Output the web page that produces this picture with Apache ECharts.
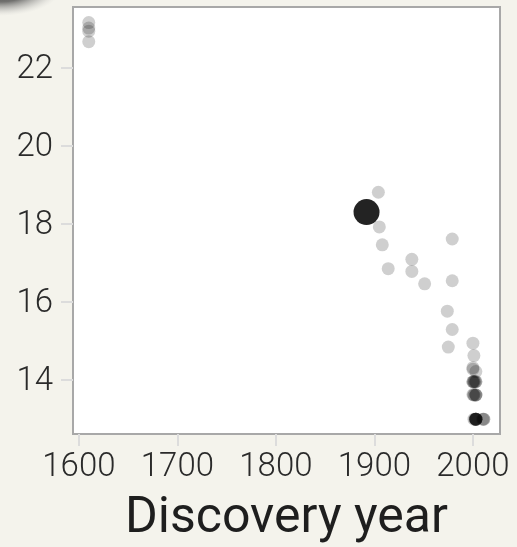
<!DOCTYPE html>
<html>
<head>
<meta charset="utf-8">
<script src="https://cdn.jsdelivr.net/npm/echarts@6/dist/echarts.min.js"></script>
<style>
  html, body { margin: 0; padding: 0; background: #f4f3ec; }
  #chart { width: 517px; height: 547px; }
</style>
</head>
<body>
<div id="chart"></div>
<script>
// Jupiter moons: discovery year vs log10 of mass (kg)
const years = [
  1610, 1610, 1610, 1610,
  1904, 1905, 1908, 1914, 1938, 1938, 1951,
  1974, 1975, 1979, 1979, 1979,
  2000, 2001,
  2000, 2000, 2003,
  2000, 2000, 2001, 2001, 2002, 2003, 2003,
  2000, 2001, 2001, 2003, 2003, 2003,
  2001, 2002, 2003, 2003, 2003, 2003, 2003, 2003, 2003, 2003,
  2010, 2011, 2011
];
const logMass = [
  23.17, 23.03, 22.95, 22.68,
  18.82, 17.93, 17.47, 16.86, 17.10, 16.79, 16.47,
  15.77, 14.85, 17.62, 16.55, 15.30,
  14.95, 14.63,
  14.32, 14.28, 14.22,
  13.96, 13.96, 13.96, 13.96, 13.96, 13.96, 13.96,
  13.63, 13.62, 13.62, 13.62, 13.62, 13.62,
  13.00, 13.00, 13.00, 13.00, 13.00, 13.00, 13.00, 13.00, 13.00, 13.00,
  13.00, 13.00, 13.00
];
// Selected moon (Amalthea)
const highlightYear = [1892];
const highlightMass = [18.31];

const xTicks = [1600, 1700, 1800, 1900, 2000];
const yTicks = [14, 16, 18, 20, 22];
const xTitle = 'Discovery year';

const points = years.map((y, i) => [y, logMass[i]]);
const selected = highlightYear.map((y, i) => [y, highlightMass[i]]);

const chart = echarts.init(document.getElementById('chart'), null, { renderer: 'canvas' });

const tickLabel = {
  fontFamily: '"Roboto Light", Roboto',
  fontWeight: 300,
  fontSize: 33,
  color: '#2a2a2a',
  formatter: v => String(v)
};

chart.setOption({
  backgroundColor: '#f4f3ec',
  animation: false,
  graphic: [{
    // soft dark shadow in the top-left corner
    type: 'circle',
    shape: { cx: 0, cy: 0, r: 28 },
    x: 0, y: -12,
    scaleX: 2.2, scaleY: 1,
    style: {
      fill: {
        type: 'radial', x: 0.5, y: 0.5, r: 0.5,
        colorStops: [
          { offset: 0, color: 'rgba(40,40,40,0.95)' },
          { offset: 0.5, color: 'rgba(70,70,70,0.75)' },
          { offset: 0.8, color: 'rgba(140,140,140,0.3)' },
          { offset: 1, color: 'rgba(200,200,200,0)' }
        ]
      }
    },
    z: 100
  }],
  grid: {
    left: 73, top: 7, right: 17, bottom: 113,
    outerBoundsMode: 'none',
    show: true,
    backgroundColor: '#ffffff',
    borderColor: '#a8a8a8',
    borderWidth: 2
  },
  xAxis: {
    type: 'value',
    min: 1594,
    max: 2027.5,
    splitLine: { show: false },
    axisLine: { show: false },
    axisTick: {
      show: true, length: 12, customValues: xTicks,
      lineStyle: { color: '#dcdcdc', width: 2 }
    },
    axisLabel: Object.assign({ margin: 16, customValues: xTicks }, tickLabel),
    name: xTitle,
    nameLocation: 'middle',
    nameGap: 60,
    nameTextStyle: {
      fontFamily: 'Roboto',
      fontWeight: 400,
      fontSize: 50,
      color: '#1e1e1e'
    }
  },
  yAxis: {
    type: 'value',
    min: 12.62,
    max: 23.57,
    splitLine: { show: false },
    axisLine: { show: false },
    axisTick: {
      show: true, length: 12, customValues: yTicks,
      lineStyle: { color: '#dcdcdc', width: 2 }
    },
    axisLabel: Object.assign({ margin: 20, customValues: yTicks }, tickLabel)
  },
  series: [
    {
      type: 'scatter',
      data: points,
      symbolSize: 13,
      itemStyle: { color: 'rgba(0,0,0,0.19)', opacity: 1 },
      emphasis: { disabled: true }
    },
    {
      type: 'scatter',
      data: selected,
      symbolSize: 26,
      itemStyle: { color: '#232323', opacity: 1 },
      emphasis: { disabled: true },
      z: 3
    }
  ]
});
</script>
</body>
</html>
